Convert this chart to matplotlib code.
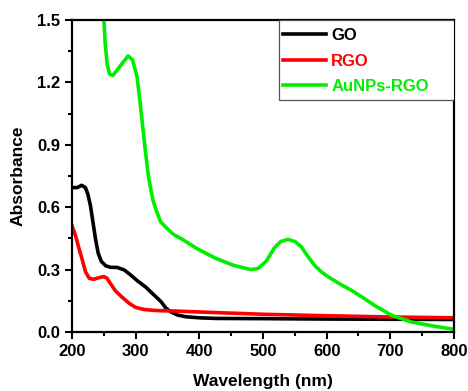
import matplotlib
matplotlib.use("Agg")
import matplotlib.pyplot as plt
from matplotlib.patches import Rectangle
import numpy as np

plt.rcParams['font.family'] = ['Liberation Sans', 'DejaVu Sans']
plt.rcParams['font.weight'] = 'bold'

go_x = [200, 208, 215, 221, 225, 229, 233, 237, 241, 246, 253, 260, 271, 282, 292, 303, 316, 329, 340, 347, 355, 366, 379, 400, 426, 500, 600, 700, 800]
go_y = [0.694, 0.694, 0.705, 0.694, 0.661, 0.605, 0.524, 0.444, 0.379, 0.339, 0.318, 0.311, 0.310, 0.298, 0.274, 0.245, 0.215, 0.177, 0.145, 0.116, 0.097, 0.081, 0.073, 0.068, 0.065, 0.064, 0.062, 0.061, 0.060]

rgo_x = [200, 205, 210, 216, 221, 227, 234, 242, 250, 255, 260, 268, 279, 290, 300, 313, 332, 358, 400, 455, 500, 600, 700, 800]
rgo_y = [0.510, 0.468, 0.411, 0.347, 0.290, 0.258, 0.253, 0.261, 0.266, 0.258, 0.234, 0.198, 0.166, 0.137, 0.118, 0.108, 0.103, 0.101, 0.096, 0.090, 0.085, 0.078, 0.072, 0.068]

au_x = [249, 250, 252, 255, 259, 264, 271, 281, 288, 295, 302, 307, 311, 315, 320, 327, 333, 339, 349, 359, 375, 396, 425, 454, 481, 492, 505, 518, 528, 539, 550, 560, 570, 581, 592, 602, 620, 639, 657, 675, 702, 733, 770, 800]
au_y = [1.56, 1.50, 1.39, 1.29, 1.239, 1.233, 1.260, 1.300, 1.327, 1.308, 1.228, 1.100, 0.987, 0.875, 0.746, 0.634, 0.578, 0.530, 0.498, 0.470, 0.442, 0.401, 0.355, 0.320, 0.300, 0.305, 0.340, 0.405, 0.435, 0.445, 0.435, 0.410, 0.365, 0.320, 0.288, 0.266, 0.232, 0.200, 0.165, 0.128, 0.080, 0.048, 0.027, 0.013]

xticks = [200, 300, 400, 500, 600, 700, 800]
yticks = [0.0, 0.3, 0.6, 0.9, 1.2, 1.5]

fig = plt.figure(figsize=(4.68, 3.91), dpi=100)
ax = fig.add_axes([0.154, 0.151, 0.816, 0.798])

lw = 2.6
ax.plot(go_x, go_y, color='black', lw=lw, label='GO', solid_joinstyle='round')
ax.plot(rgo_x, rgo_y, color='#ff0000', lw=lw, label='RGO', solid_joinstyle='round')
ax.plot(au_x, au_y, color='#00ee00', lw=lw, label='AuNPs-RGO', solid_joinstyle='round')

ax.set_xlim(200, 800)
ax.set_ylim(0, 1.5)
ax.set_xticks(xticks)
ax.set_yticks(yticks)
ax.set_yticklabels([f"{v:.1f}" for v in yticks])
ax.set_xticks(np.arange(250, 800, 100), minor=True)
ax.set_yticks(np.arange(0.15, 1.5, 0.3), minor=True)
ax.tick_params(which='both', direction='out', top=False, right=False, width=1.5, labelsize=12)
ax.tick_params(which='major', length=5)
ax.tick_params(which='minor', length=3)
for s in ax.spines.values():
    s.set_linewidth(1.6)

ax.set_xlabel('Wavelength (nm)', fontsize=12.5, fontweight='bold', labelpad=11)
ax.set_ylabel('Absorbance', fontsize=12.5, fontweight='bold', labelpad=8)

# legend box
box_x0 = 0.542
box_y0 = 0.744
ax.add_patch(Rectangle((box_x0, box_y0), 1 - box_x0, 1 - box_y0, transform=ax.transAxes,
                       facecolor='white', edgecolor='#555555', lw=0.9, zorder=5))
leg = ax.legend(loc='upper left', bbox_to_anchor=(box_x0 - 0.012, 1.0), borderaxespad=0,
                frameon=False, prop={'weight': 'bold', 'size': 12}, handlelength=2.6,
                handletextpad=0.3, labelspacing=0.62, borderpad=0.5)
leg.set_zorder(6)
for t, c in zip(leg.get_texts(), ['black', '#ff0000', '#00ee00']):
    t.set_color(c)

fig.savefig('out.png', dpi=100)
